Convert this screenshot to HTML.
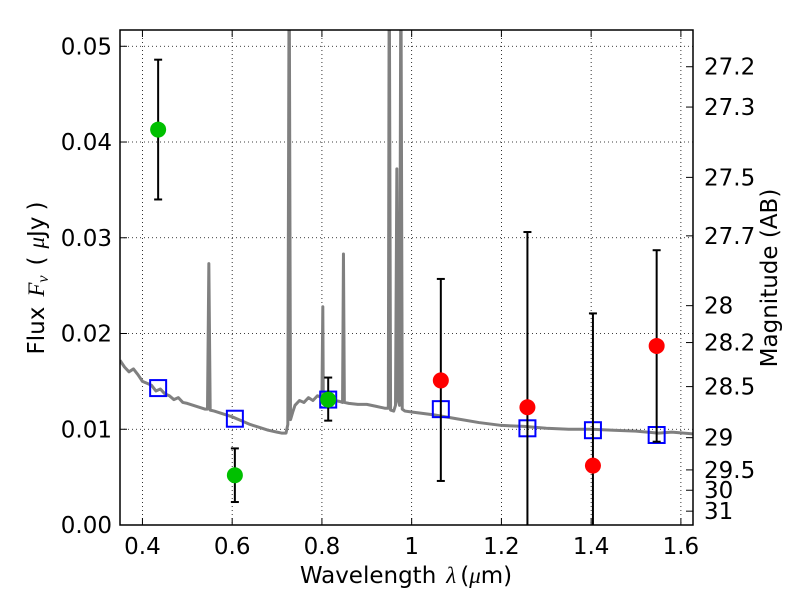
<!DOCTYPE html>
<html><head><meta charset="utf-8"><style>
body{margin:0;background:#fff;}
svg text{font-family:"DejaVu Sans","Liberation Sans",sans-serif;}
</style></head><body>
<svg id="chart" width="800" height="600"></svg>
<script>
const specWave=[0.35,0.36,0.37,0.38,0.39,0.40,0.41,0.42,0.43,0.44,0.45,0.46,0.47,0.48,0.49,0.50,0.52,0.54,0.545,0.548,0.551,0.56,0.58,0.60,0.62,0.64,0.66,0.68,0.70,0.71,0.72,0.724,0.727,0.730,0.735,0.74,0.75,0.76,0.77,0.78,0.79,0.80,0.802,0.803,0.805,0.81,0.82,0.83,0.84,0.846,0.848,0.850,0.86,0.88,0.90,0.92,0.94,0.948,0.950,0.953,0.96,0.964,0.967,0.970,0.973,0.976,0.979,0.985,1.00,1.05,1.10,1.15,1.20,1.25,1.30,1.35,1.40,1.45,1.50,1.55,1.58,1.63];
const specFlux=[0.0172,0.0165,0.0160,0.0163,0.0157,0.0150,0.0148,0.0146,0.0140,0.0142,0.0137,0.0135,0.0131,0.0133,0.0128,0.0127,0.0124,0.0121,0.0121,0.0273,0.0120,0.0119,0.0116,0.0113,0.0109,0.0105,0.0102,0.0099,0.0097,0.0096,0.0096,0.0105,0.0600,0.0110,0.0118,0.0125,0.0130,0.0128,0.0133,0.0130,0.0135,0.0133,0.0228,0.0135,0.0132,0.0133,0.0130,0.0130,0.0129,0.0128,0.0283,0.0128,0.0127,0.0126,0.0126,0.0124,0.0122,0.0122,0.0600,0.0120,0.0119,0.0125,0.0372,0.0130,0.0125,0.0600,0.0121,0.0119,0.0118,0.0115,0.0111,0.0107,0.0104,0.0103,0.0101,0.0100,0.0100,0.0099,0.0098,0.0096,0.0097,0.0095];
const photWave=[0.435,0.606,0.814,1.065,1.258,1.404,1.546];
const obsFlux=[0.0413,0.0052,0.0131,0.0151,0.0123,0.0062,0.0187];
const errLow=[0.0340,0.0024,0.0109,0.0046,0.0,0.0,0.0087];
const errHigh=[0.0486,0.0080,0.0154,0.0257,0.0306,0.0221,0.0287];
const obsColor=['#00c000','#00c000','#00c000','#ff0000','#ff0000','#ff0000','#ff0000'];
const modelFlux=[0.0143,0.0111,0.0131,0.0121,0.0101,0.0099,0.0094];
const xTicks=[0.4,0.6,0.8,1.0,1.2,1.4,1.6];
const xTickLabels=['0.4','0.6','0.8','1','1.2','1.4','1.6'];
const yTicks=[0,0.01,0.02,0.03,0.04,0.05];
const yTickLabels=['0.00','0.01','0.02','0.03','0.04','0.05'];
const magTicks=[27.2,27.3,27.5,27.7,28,28.2,28.5,29,29.5,30,31];

const L=120,R=693,T=30,B=525,XMIN=0.35,XMAX=1.627,YMIN=0,YMAX=0.0517;
const sx=v=>L+(v-XMIN)/(XMAX-XMIN)*(R-L);
const sy=v=>B-(v-YMIN)/(YMAX-YMIN)*(B-T);
const NS='http://www.w3.org/2000/svg';
const svg=document.getElementById('chart');
function mk(tag,attrs,parent){const e=document.createElementNS(NS,tag);for(const k in attrs)e.setAttribute(k,attrs[k]);(parent||svg).appendChild(e);return e;}
const defs=mk('defs',{});const cp=mk('clipPath',{id:'clip'},defs);mk('rect',{x:L,y:T,width:R-L,height:B-T},cp);
const FS=23;

xTicks.forEach(t=>{const g=mk('line',{x1:sx(t),x2:sx(t),y1:T,y2:B,stroke:'#000','stroke-width':0.8,'stroke-dasharray':'1,3'});

});
yTicks.forEach(t=>{const g=mk('line',{x1:L,x2:R,y1:sy(t),y2:sy(t),stroke:'#000','stroke-width':0.8,'stroke-dasharray':'1,3'});

});

const sp=mk('polyline',{points:specWave.map((w,i)=>sx(w)+','+sy(specFlux[i])).join(' '),fill:'none',stroke:'#808080','stroke-width':3,'clip-path':'url(#clip)','stroke-linejoin':'round'});



modelFlux.forEach((f,i)=>{const r=mk('rect',{x:sx(photWave[i])-8,y:sy(f)-8,width:16,height:16,fill:'none',stroke:'#0000ff','stroke-width':2});

});

obsFlux.forEach((f,i)=>{const x=sx(photWave[i]);
const e=mk('line',{x1:x,x2:x,y1:sy(errLow[i]),y2:sy(errHigh[i]),stroke:'#000','stroke-width':2,'clip-path':'url(#clip)'});


[errLow[i],errHigh[i]].forEach(v=>{if(v>0){const c=mk('line',{x1:x-4,x2:x+4,y1:sy(v),y2:sy(v),stroke:'#000','stroke-width':2});

}});
const p=mk('circle',{cx:x,cy:sy(f),r:8,fill:obsColor[i]});

});

const fr=mk('rect',{x:L,y:T,width:R-L,height:B-T,fill:'none',stroke:'#000','stroke-width':1.5});



xTicks.forEach((t,i)=>{mk('line',{x1:sx(t),x2:sx(t),y1:B,y2:B-7,stroke:'#000'});mk('line',{x1:sx(t),x2:sx(t),y1:T,y2:T+7,stroke:'#000'});
const tx=mk('text',{x:sx(t),y:B+29,'font-size':FS,'text-anchor':'middle'});tx.textContent=xTickLabels[i];

});
yTicks.forEach((t,i)=>{mk('line',{x1:L,x2:L+7,y1:sy(t),y2:sy(t),stroke:'#000'});
const tx=mk('text',{x:L-8,y:sy(t)+8,'font-size':FS,'text-anchor':'end'});tx.textContent=yTickLabels[i];

});
magTicks.forEach(m=>{const y=sy(Math.pow(10,(23.9-m)/2.5));mk('line',{x1:R,x2:R-7,y1:y,y2:y,stroke:'#000'});
const tx=mk('text',{x:R+11,y:y+8,'font-size':FS});tx.textContent=String(m);

});

const xt=mk('text',{x:406,y:583,'font-size':FS,'text-anchor':'middle'});xt.innerHTML='Wavelength<tspan dx="10" font-style="italic" font-family="Liberation Serif">λ</tspan><tspan dx="4">(</tspan><tspan font-style="italic" font-family="Liberation Serif">μ</tspan>m)';


const yt=mk('text',{x:0,y:0,'font-size':FS,'text-anchor':'middle',transform:'translate(44,278) rotate(-90)'});yt.innerHTML='Flux<tspan dx="10" font-style="italic" font-family="Liberation Serif">F<tspan font-size="16" dy="4">ν</tspan></tspan><tspan dy="-4" dx="10">(</tspan><tspan dx="8" font-style="italic" font-family="Liberation Serif">μ</tspan>Jy<tspan dx="6">)</tspan>';


const rt=mk('text',{x:0,y:0,'font-size':FS,'text-anchor':'middle',transform:'translate(777,278) rotate(-90)'});rt.textContent='Magnitude (AB)';


</script>
</body></html>
